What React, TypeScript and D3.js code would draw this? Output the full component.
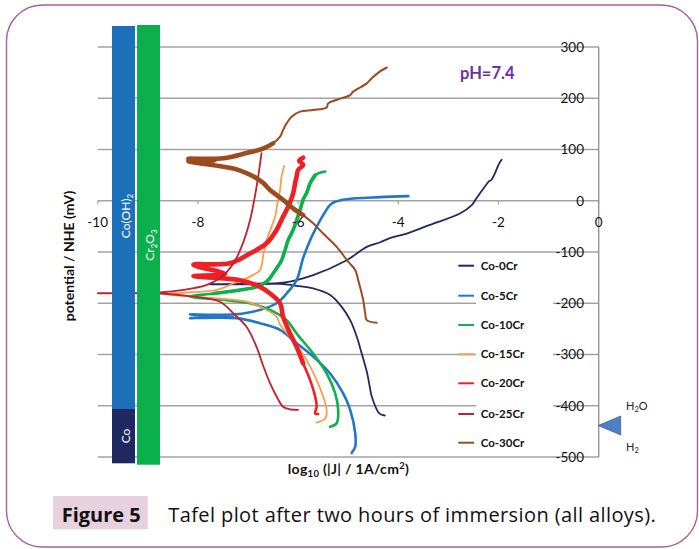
import React from "react";
import * as d3 from "d3";

// ---------- data ----------
const seriesNames = ["Co-0Cr", "Co-5Cr", "Co-10Cr", "Co-15Cr", "Co-20Cr", "Co-25Cr", "Co-30Cr"];

const co0CrJ = [-4.27,-4.38,-4.53,-4.57,-4.62,-4.66,-4.73,-4.83,-4.96,-5.13,-5.36,-5.70,-6.03,-6.36,-7.76,-6.30,-5.70,-5.03,-4.63,-4.36,-4.17,-3.83,-3.37,-2.77,-2.53,-2.44,-2.30,-2.20,-2.14,-2.07,-2.00,-1.94];
const co0CrE = [-419,-415,-382,-363,-337,-322,-298,-265,-233,-207,-184,-171,-166,-162,-163,-160,-145,-116,-90,-81,-73,-64,-47,-25,-8,5,24,37,41,54,70,80];

const co5CrJ = [-4.93,-4.86,-4.86,-4.96,-5.10,-5.36,-5.70,-6.03,-6.36,-6.76,-7.23,-8.16,-7.30,-8.16,-7.09,-6.43,-6.23,-6.03,-5.90,-5.76,-5.63,-5.50,-5.36,-5.26,-5.03,-4.37,-3.80];
const co5CrE = [-492,-480,-454,-408,-376,-337,-304,-278,-252,-239,-229,-229,-226,-222,-220,-200,-181,-155,-112,-77,-51,-28,-8,-2,3,7,9];

const co10CrJ = [-5.36,-5.23,-5.20,-5.26,-5.43,-5.70,-6.03,-6.23,-6.56,-6.96,-7.43,-8.16,-7.69,-7.16,-6.83,-6.63,-6.50,-6.33,-6.26,-6.20,-6.10,-6.03,-5.96,-5.90,-5.83,-5.76,-5.66,-5.46];
const co10CrE = [-441,-434,-408,-376,-337,-298,-259,-233,-213,-200,-194,-187,-181,-174,-168,-158,-142,-116,-96,-77,-57,-38,-18,2,15,34,50,57];

const co15CrJ = [-5.63,-5.46,-5.43,-5.50,-5.63,-5.83,-6.10,-6.36,-6.43,-6.76,-7.03,-7.43,-8.09,-8.66,-7.62,-7.29,-6.96,-6.76,-6.69,-6.63,-6.53,-6.46,-6.40,-6.36,-6.33,-6.28];
const co15CrE = [-433,-425,-408,-382,-350,-311,-272,-242,-226,-207,-197,-192,-187,-182,-174,-161,-148,-135,-103,-77,-51,-31,2,21,47,68];

const co20CrJ = [-5.60,-5.66,-5.63,-5.66,-5.76,-5.90,-6.03,-6.16,-6.30,-6.36,-6.56,-6.76,-7.16,-8.09,-7.46,-8.09,-7.36,-6.96,-6.63,-6.43,-6.30,-6.20,-6.10,-6.06,-6.03,-6.00,-5.90,-5.98,-5.90];
const co20CrE = [-416,-415,-402,-382,-350,-317,-285,-259,-226,-200,-181,-168,-155,-147,-143,-125,-122,-103,-83,-57,-31,-12,14,34,47,60,70,78,84];

const co25CrJ = [-6.00,-6.16,-6.30,-6.43,-6.56,-6.69,-6.83,-7.03,-7.29,-7.56,-8.09,-8.76,-10.0,-8.76,-8.29,-7.82,-7.52,-7.29,-7.13,-6.96,-6.83,-6.73];
const co25CrE = [-408,-407,-402,-382,-356,-324,-285,-246,-220,-197,-187,-181,-180.5,-179,-174,-164,-148,-122,-90,-38,27,93];

const co30CrJ = [-4.43,-4.63,-4.66,-4.70,-4.73,-4.80,-4.86,-5.00,-5.23,-5.50,-5.70,-5.90,-6.10,-6.30,-6.56,-6.69,-6.83,-7.03,-7.29,-7.59,-8.19,-7.66,-8.19,-7.49,-7.03,-6.69,-6.50,-6.36,-6.30,-6.23,-6.13,-5.96,-5.70,-5.43,-5.40,-5.23,-4.96,-4.90,-4.63,-4.53,-4.37,-4.23];
const co30CrE = [-238,-233,-220,-194,-181,-155,-135,-119,-90,-64,-44,-28,-15,2,21,34,44,54,63,68,77,79,82,83,93,102,112,125,138,151,164,174,177,182,190,197,206,213,229,239,252,260];

const xTicks = [-10, -8, -6, -4, -2, 0];
const yTicks = [300, 200, 100, 0, -100, -200, -300, -400, -500];

// ---------- styles ----------
const seriesData = [
  { j: co0CrJ, e: co0CrE, color: "#1F2A62", w: 1.8 },
  { j: co5CrJ, e: co5CrE, color: "#2277C6", w: 2.6 },
  { j: co10CrJ, e: co10CrE, color: "#0DB04B", w: 2.6, heavy: [12, 26, 3.6] },
  { j: co15CrJ, e: co15CrE, color: "#F99D4C", w: 1.8 },
  { j: co20CrJ, e: co20CrE, color: "#EE1F25", w: 2.6, heavy: [5, 28, 4.6] },
  { j: co25CrJ, e: co25CrE, color: "#C0212E", w: 1.8 },
  { j: co30CrJ, e: co30CrE, color: "#9C4A1F", w: 2.0, heavy: [11, 26, 4.6] },
];

const W = 699, H = 549;
const font = "Lato, 'Open Sans', sans-serif";

export default function App() {
  const x = d3.scaleLinear().domain([-10, 0]).range([97.7, 598.7]);
  const y = d3.scaleLinear().domain([-500, 300]).range([457, 47]);
  const line = d3
    .line<[number, number]>()
    .x((d) => x(d[0]))
    .y((d) => y(d[1]))
    .curve(d3.curveCatmullRom.alpha(0.5));

  const gridColor = "#A3A3A3";
  const legendY = [265.7, 295.7, 325, 354.3, 383.3, 414, 442.7];

  return (
    <svg
      width={W}
      height={H}
      style={{ position: "absolute", left: 0, top: 0, background: "#fff" }}
      fontFamily={font}
    >
      {/* frame */}
      <rect x={6.5} y={5} width={691} height={542} rx={36} ry={36} fill="#fff" stroke="#A8609A" strokeWidth={1.4} />

      {/* gridlines */}
      {yTicks.map((t) => (
        <line key={"g" + t} x1={x(-10)} x2={x(0)} y1={y(t)} y2={y(t)} stroke={gridColor} strokeWidth={1.3} />
      ))}
      {/* x-axis ticks at E=0 */}
      {xTicks.map((t) => (
        <line key={"xt" + t} x1={x(t)} x2={x(t)} y1={y(0)} y2={y(0) + 3.5} stroke={gridColor} strokeWidth={1.2} />
      ))}
      {/* right vertical axis */}
      <line x1={x(0)} x2={x(0)} y1={y(300)} y2={y(-500)} stroke="#8C8C8C" strokeWidth={1.3} />

      {/* curves */}
      {seriesData.map((s, i) => {
        const pts = s.j.map((v, k) => [v, s.e[k]] as [number, number]);
        const heavy = s.heavy ? pts.slice(s.heavy[0], s.heavy[1] + 1) : null;
        return (
          <g key={"s" + i}>
            <path d={line(pts) || ""} fill="none" stroke={s.color} strokeWidth={s.w} strokeLinejoin="round" strokeLinecap="round" />
            {heavy && (
              <path d={line(heavy) || ""} fill="none" stroke={s.color} strokeWidth={s.heavy![2]} strokeLinejoin="round" strokeLinecap="round" />
            )}
          </g>
        );
      })}

      {/* phase bars */}
      <rect x={112} y={26} width={23} height={383} fill="#1C6FB9" />
      <rect x={112} y={409} width={23} height={54.3} fill="#1F285F" />
      <rect x={137} y={25} width={23} height={439.7} fill="#0BAF4C" />
      <text transform="translate(129.5,216) rotate(-90)" textAnchor="middle" fill="#fff" fontSize={12}>
        Co(OH)<tspan fontSize={8} dy={3}>2</tspan>
      </text>
      <text transform="translate(154,245) rotate(-90)" textAnchor="middle" fill="#fff" fontSize={12}>
        Cr<tspan fontSize={8} dy={3}>2</tspan>
        <tspan dy={-3}>O</tspan>
        <tspan fontSize={8} dy={3}>3</tspan>
      </text>
      <text transform="translate(129.5,436) rotate(-90)" textAnchor="middle" fill="#fff" fontSize={12}>
        Co
      </text>

      {/* legend */}
      <rect x={476} y={256} width={77} height={199} fill="#fff" />
      {seriesNames.map((n, i) => (
        <g key={"l" + i}>
          <line x1={458.3} x2={474} y1={legendY[i]} y2={legendY[i]} stroke={seriesData[i].color} strokeWidth={2} />
          <text x={480.7} y={legendY[i] + 4} fontSize={11.5} fontWeight="bold" fill="#111">
            {n}
          </text>
        </g>
      ))}

      {/* x tick labels */}
      {xTicks.map((t) => (
        <text key={"xl" + t} x={x(t)} y={226.5} textAnchor="middle" fontSize={13.5} fill="#111">
          {t === 0 ? "0" : "-" + Math.abs(t)}
        </text>
      ))}
      {/* y tick labels */}
      {yTicks.map((t) => (
        <text key={"yl" + t} x={584} y={y(t) + 4.8} textAnchor="end" fontSize={13.5} fill="#111">
          {t < 0 ? "-" + Math.abs(t) : String(t)}
        </text>
      ))}

      {/* axis titles */}
      <text transform="translate(74,256) rotate(-90)" textAnchor="middle" fontSize={14} fontWeight="bold" fill="#111">
        potential / NHE (mV)
      </text>
      <text x={348.5} y={473.5} textAnchor="middle" fontSize={14} fontWeight="bold" fill="#111" letterSpacing={0.3}>
        log<tspan fontSize={9.5} dy={3}>10</tspan>
        <tspan dy={-3}> (|J| / 1A/cm</tspan>
        <tspan fontSize={9.5} dy={-5}>2</tspan>
        <tspan dy={5}>)</tspan>
      </text>

      {/* pH label */}
      <text x={460} y={79} fontSize={16.5} fontWeight="bold" fill="#7030A0">
        pH=7.4
      </text>

      {/* H2O / H2 marker */}
      <polygon points="598.3,425.5 620.7,416 620.7,435" fill="#4F7FC0" stroke="#3A64A0" strokeWidth={0.8} />
      <text x={626} y={409.5} fontSize={11} fill="#222">
        H<tspan fontSize={7.5} dy={2.5}>2</tspan>
        <tspan dy={-2.5}>O</tspan>
      </text>
      <text x={626} y={450.5} fontSize={11} fill="#222">
        H<tspan fontSize={7.5} dy={2.5}>2</tspan>
      </text>

      {/* caption */}
      <rect x={53} y={496} width={94.7} height={33.3} fill="#E7D1DE" />
      <text x={61.7} y={521.7} fontSize={20} fontWeight="bold" fill="#111" fontFamily="'Open Sans', sans-serif">
        Figure 5
      </text>
      <text x={168.3} y={521.7} fontSize={20} fill="#111" fontFamily="'Open Sans', sans-serif" letterSpacing={0.4}>
        Tafel plot after two hours of immersion (all alloys).
      </text>
    </svg>
  );
}
